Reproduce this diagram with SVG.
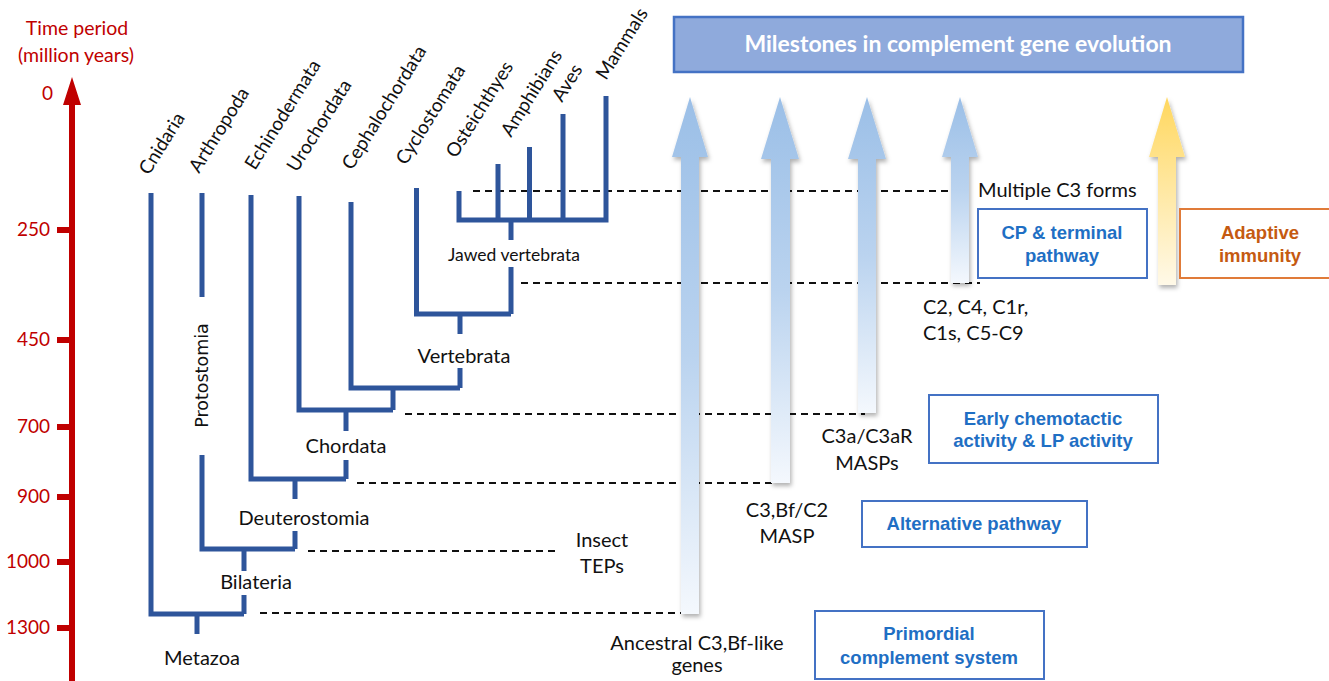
<svg xmlns="http://www.w3.org/2000/svg" width="1329" height="681" viewBox="0 0 1329 681">
<style>
.tree{fill:none;stroke:#2E559B;stroke-width:5;stroke-linejoin:miter;stroke-linecap:butt}
.dash{fill:none;stroke:#111;stroke-width:1.8;stroke-dasharray:7 5}
.taxon{font-family:Lato,"Liberation Sans",sans-serif;font-size:19px;fill:#111}
.clade{font-family:Lato,"Liberation Sans",sans-serif;font-size:20px;fill:#111;text-anchor:middle}
.small{font-size:17.5px}
.lbl{font-family:Lato,"Liberation Sans",sans-serif;font-size:20px;fill:#111}
.red{font-family:Lato,"Liberation Sans",sans-serif;font-size:19px;fill:#C00000}
.head{font-size:19.5px}
.box{fill:#fff;stroke:#4472C4;stroke-width:2}
.btxt{font-family:"Liberation Sans",Arial,sans-serif;font-weight:bold;font-size:18.5px;fill:#1F6FC4;text-anchor:middle}
.otxt{font-family:"Liberation Sans",Arial,sans-serif;font-weight:bold;font-size:18.5px;fill:#C55A11;text-anchor:middle}
</style>
<defs>
<linearGradient id="gb" x1="0" y1="0" x2="0" y2="1">
<stop offset="0" stop-color="#9BBFE7"/>
<stop offset="0.5" stop-color="#BAD3EF"/>
<stop offset="1" stop-color="#F4F8FD"/>
</linearGradient>
<linearGradient id="gy" x1="0" y1="0" x2="0" y2="1">
<stop offset="0" stop-color="#FFD75E"/>
<stop offset="1" stop-color="#FFF9E8"/>
</linearGradient>
<filter id="sh" x="-50%" y="-10%" width="200%" height="120%">
<feDropShadow dx="1.5" dy="3" stdDeviation="2" flood-color="#000" flood-opacity="0.3"/>
</filter>
</defs>

<g id="time-axis">
<text class="red head" x="77" y="35" text-anchor="middle">Time period</text>
<text class="red head" x="76" y="62" text-anchor="middle">(million years)</text>
<path d="M72,77 L81,105 L75,105 L75,681 L69,681 L69,105 L63,105 Z" fill="#C00000"/>
<g fill="#C00000">
<rect x="57" y="227" width="13" height="6"/>
<rect x="57" y="337" width="13" height="6"/>
<rect x="57" y="424" width="13" height="6"/>
<rect x="57" y="494" width="13" height="6"/>
<rect x="57" y="559" width="13" height="6"/>
<rect x="57" y="625" width="13" height="6"/>
</g>
<g class="red" text-anchor="end">
<text x="53" y="100">0</text>
<text x="50" y="236">250</text>
<text x="50" y="346">450</text>
<text x="50" y="433">700</text>
<text x="50" y="503">900</text>
<text x="50" y="568">1000</text>
<text x="50" y="634">1300</text>
</g>
</g>

<g id="connectors">
<path class="dash" d="M473,191 H950"/>
<path class="dash" d="M521,283 H980"/>
<path class="dash" d="M405,414 H865"/>
<path class="dash" d="M357,483 H772"/>
<path class="dash" d="M308,551 H558"/>
<path class="dash" d="M260,613 H681"/>
</g>

<g id="tree">
<g id="jawed-vertebrata">
<path class="tree" d="M459,191 V220 H606 V96"/>
<path class="tree" d="M498,164 V220 M529.5,147 V220 M563,114 V220"/>
<path class="tree" d="M511,220 V240 M511,267 V314"/>
<text class="clade small" x="514" y="261">Jawed vertebrata</text>
</g>
<g id="vertebrata">
<path class="tree" d="M416.5,188 V314 H511"/>
<path class="tree" d="M460,314 V334 M460,368 V388"/>
<text class="clade" x="464" y="363">Vertebrata</text>
</g>
<g id="olfactores">
<path class="tree" d="M351,202 V388 H460"/>
<path class="tree" d="M393,388 V410"/>
</g>
<g id="chordata">
<path class="tree" d="M299,196 V410 H393"/>
<path class="tree" d="M346,410 V431 M346,460 V479"/>
<text class="clade" x="346" y="453">Chordata</text>
</g>
<g id="deuterostomia">
<path class="tree" d="M251,195 V479 H346"/>
<path class="tree" d="M295,479 V499 M295,531 V549"/>
<text class="clade" x="304" y="525">Deuterostomia</text>
</g>
<g id="bilateria">
<path class="tree" d="M202,193 V297 M202,455 V549 H295"/>
<path class="tree" d="M244,549 V571 M244,595 V614"/>
<text class="clade" x="256" y="589">Bilateria</text>
<text x="208" y="375.5" transform="rotate(-90 208 375.5)" text-anchor="middle" font-family="'DejaVu Sans',sans-serif" font-size="17.5" fill="#111">Protostomia</text>
</g>
<g id="metazoa">
<path class="tree" d="M151,193 V614 H244"/>
<path class="tree" d="M197,614 V634"/>
<text class="clade" x="202" y="665">Metazoa</text>
</g>
<g id="taxa">
<text class="taxon" transform="translate(149,176) rotate(-58)">Cnidaria</text>
<text class="taxon" transform="translate(199,174) rotate(-58)">Arthropoda</text>
<text class="taxon" transform="translate(255,171) rotate(-58)">Echinodermata</text>
<text class="taxon" transform="translate(297,173) rotate(-58)">Urochordata</text>
<text class="taxon" transform="translate(352,171) rotate(-58)">Cephalochordata</text>
<text class="taxon" transform="translate(406,166) rotate(-58)">Cyclostomata</text>
<text class="taxon" transform="translate(456,159) rotate(-58)">Osteichthyes</text>
<text class="taxon" transform="translate(511,138) rotate(-58)">Amphibians</text>
<text class="taxon" transform="translate(562,103) rotate(-58)">Aves</text>
<text class="taxon" transform="translate(606,81) rotate(-58)">Mammals</text>
</g>
</g>

<g id="title">
<rect x="674" y="17" width="569" height="55" fill="#8FAADC" stroke="#4472C4" stroke-width="2.5"/>
<text x="958" y="52" text-anchor="middle" font-family="Lato,'Liberation Sans',sans-serif" font-weight="bold" font-size="23" fill="#fff">Milestones in complement gene evolution</text>
</g>

<g id="arrows" filter="url(#sh)">
<path id="arrow-ancestral" d="M690,97 L708,157 L699,157 L699,614 L681,614 L681,157 L672,157 Z" fill="url(#gb)"/>
<path id="arrow-c3bf" d="M780,97 L799,159 L790,159 L790,483 L771,483 L771,159 L761,159 Z" fill="url(#gb)"/>
<path id="arrow-c3a" d="M867,97 L886,159 L876,159 L876,413 L858,413 L858,159 L848,159 Z" fill="url(#gb)"/>
<path id="arrow-c2c4" d="M960,97 L978,157 L969,157 L969,283 L951,283 L951,157 L942,157 Z" fill="url(#gb)"/>
<path id="arrow-adaptive" d="M1167,97 L1185,157 L1176,157 L1176,285 L1158,285 L1158,157 L1149,157 Z" fill="url(#gy)"/>
</g>

<g id="milestone-labels">
<text class="lbl" x="978" y="197">Multiple C3 forms</text>
<text class="lbl" x="923" y="314">C2, C4, C1r,</text>
<text class="lbl" x="923" y="340">C1s, C5-C9</text>
<text class="lbl" x="867" y="443" text-anchor="middle">C3a/C3aR</text>
<text class="lbl" x="867" y="470" text-anchor="middle">MASPs</text>
<text class="lbl" x="787" y="517" text-anchor="middle">C3,Bf/C2</text>
<text class="lbl" x="787" y="543" text-anchor="middle">MASP</text>
<text class="lbl" x="697" y="650" text-anchor="middle">Ancestral C3,Bf-like</text>
<text class="lbl" x="697" y="672" text-anchor="middle">genes</text>
<text class="lbl" x="602" y="547" text-anchor="middle">Insect</text>
<text class="lbl" x="602" y="573" text-anchor="middle">TEPs</text>
</g>

<g id="box-cp">
<rect class="box" x="978" y="209" width="169" height="69"/>
<text class="btxt" x="1062" y="239">CP &amp; terminal</text>
<text class="btxt" x="1062" y="262">pathway</text>
</g>
<g id="box-adaptive">
<rect x="1180" y="209" width="155" height="69" fill="#fff" stroke="#E07B39" stroke-width="2"/>
<text class="otxt" x="1260" y="239">Adaptive</text>
<text class="otxt" x="1260" y="262">immunity</text>
</g>
<g id="box-early">
<rect class="box" x="929" y="395" width="229" height="68"/>
<text class="btxt" x="1043" y="425">Early chemotactic</text>
<text class="btxt" x="1043" y="447">activity &amp; LP activity</text>
</g>
<g id="box-alternative">
<rect class="box" x="862" y="501" width="225" height="46"/>
<text class="btxt" x="974" y="530">Alternative pathway</text>
</g>
<g id="box-primordial">
<rect class="box" x="815" y="611" width="229" height="68"/>
<text class="btxt" x="929" y="640">Primordial</text>
<text class="btxt" x="929" y="664">complement system</text>
</g>
</svg>
